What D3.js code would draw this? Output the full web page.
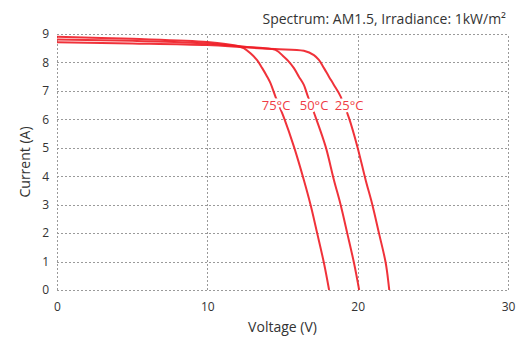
<!DOCTYPE html>
<html>
<head>
<meta charset="utf-8">
<script src="https://cdn.jsdelivr.net/npm/d3@7"></script>
<style>
  body { margin: 0; background: #fff; }
  text { font-family: "Open Sans", "Noto Sans", sans-serif; }
</style>
</head>
<body>
<div id="chart"></div>
<script>
// I-V curves at three temperatures

var margin = {top: 34, right: 20, bottom: 50, left: 57};
var width = 528;
var height = 340;

var xTicks = [0, 10, 20, 30];
var yTicks = [0, 1, 2, 3, 4, 5, 6, 7, 8, 9];
var labels = ["75°C", "50°C", "25°C"];

// voltage (V) and current (A)
var v75 = [0, 5, 10, 12.0, 12.42, 12.87, 13.31, 13.65, 13.98, 14.2, 14.53, 15.1, 15.76, 16.42, 16.87, 17.31, 17.76, 18.1];
var i75 = [8.90, 8.83, 8.72, 8.58, 8.50, 8.32, 8.08, 7.80, 7.50, 7.27, 6.80, 6.05, 5.04, 3.87, 2.99, 1.99, 0.94, 0];
var v50 = [0, 5, 10, 12.5, 14.53, 15.09, 15.42, 15.76, 16.09, 16.42, 16.64, 17.2, 17.87, 18.42, 18.87, 19.31, 19.76, 20.1];
var i50 = [8.81, 8.76, 8.67, 8.55, 8.44, 8.20, 8.03, 7.80, 7.50, 7.21, 6.88, 6.08, 5.04, 3.87, 2.99, 1.99, 0.94, 0];
var v25 = [0, 5, 10, 12.5, 14.5, 16.42, 17.09, 17.42, 17.76, 18.09, 18.42, 18.87, 19.42, 19.98, 20.53, 20.98, 21.42, 21.87, 22.1];
var i25 = [8.71, 8.67, 8.61, 8.53, 8.47, 8.41, 8.26, 8.09, 7.80, 7.50, 7.21, 6.80, 6.05, 5.04, 3.87, 2.99, 1.99, 0.94, 0];

var series = [
  {name: labels[0], v: v75, i: i75, lx: 14.57, ly: 6.33},
  {name: labels[1], v: v50, i: i50, lx: 17.1, ly: 6.33},
  {name: labels[2], v: v25, i: i25, lx: 19.43, ly: 6.33}
];

var svg = d3.select("#chart")
  .append("svg")
  .attr("width", width)
  .attr("height", height);

var xScale = d3.scaleLinear()
  .domain([0, 30])
  .range([margin.left, width - margin.right]);

var yScale = d3.scaleLinear()
  .domain([0, 9])
  .range([height - margin.bottom, margin.top]);

// Grid

svg.append("g")
  .selectAll("line")
  .data(yTicks)
  .enter().append("line")
  .attr("x1", xScale(0))
  .attr("x2", xScale(30))
  .attr("y1", d => Math.round(yScale(d)) + 0.5)
  .attr("y2", d => Math.round(yScale(d)) + 0.5)
  .attr("stroke", "#9a9a9a")
  .attr("stroke-dasharray", "2,2");

svg.append("g")
  .selectAll("line")
  .data(xTicks)
  .enter().append("line")
  .attr("x1", d => Math.round(xScale(d)) + 0.5)
  .attr("x2", d => Math.round(xScale(d)) + 0.5)
  .attr("y1", yScale(0))
  .attr("y2", yScale(9))
  .attr("stroke", "#9a9a9a")
  .attr("stroke-dasharray", "2,2");

// Axes (labels only)

var xAxis = svg.append("g")
  .attr("transform", `translate(0, ${height - margin.bottom})`)
  .call(d3.axisBottom(xScale).tickValues(xTicks).tickSize(0).tickPadding(12));

var yAxis = svg.append("g")
  .attr("transform", `translate(${margin.left}, 0)`)
  .call(d3.axisLeft(yScale).tickValues(yTicks).tickSize(0).tickPadding(8));

svg.selectAll(".domain").remove();
svg.selectAll(".tick text")
  .attr("font-family", "'Open Sans', sans-serif")
  .attr("font-size", 12)
  .attr("fill", "#333");

svg.append("text")
  .attr("x", (xScale(0) + xScale(30)) / 2)
  .attr("y", 332)
  .attr("text-anchor", "middle")
  .attr("font-size", 14)
  .attr("fill", "#333")
  .text("Voltage (V)");

svg.append("text")
  .attr("transform", "rotate(-90)")
  .attr("x", -(yScale(0) + yScale(9)) / 2)
  .attr("y", 30)
  .attr("text-anchor", "middle")
  .attr("font-size", 14)
  .attr("fill", "#333")
  .text("Current (A)");

svg.append("text")
  .attr("x", xScale(30) - 2)
  .attr("y", 24)
  .attr("text-anchor", "end")
  .attr("font-size", 14)
  .attr("fill", "#333")
  .text("Spectrum: AM1.5, Irradiance: 1kW/m²");

// Curves

var line = d3.line()
  .x(d => xScale(d[0]))
  .y(d => yScale(d[1]))
  .curve(d3.curveCatmullRom.alpha(0.5));

svg.append("g")
  .selectAll("path")
  .data(series)
  .enter().append("path")
  .attr("d", s => line(s.v.map((v, k) => [v, s.i[k]])))
  .attr("fill", "none")
  .attr("stroke", "#ee1c25")
  .attr("stroke-opacity", 0.9)
  .attr("stroke-width", 2);

svg.append("g")
  .selectAll("text")
  .data(series)
  .enter().append("text")
  .attr("x", s => xScale(s.lx))
  .attr("y", s => yScale(s.ly))
  .attr("text-anchor", "middle")
  .attr("font-size", 13)
  .attr("fill", "#ef3b44")
  .attr("stroke", "#fff")
  .attr("stroke-width", 5)
  .attr("paint-order", "stroke")
  .text(s => s.name);
</script>
</body>
</html>
